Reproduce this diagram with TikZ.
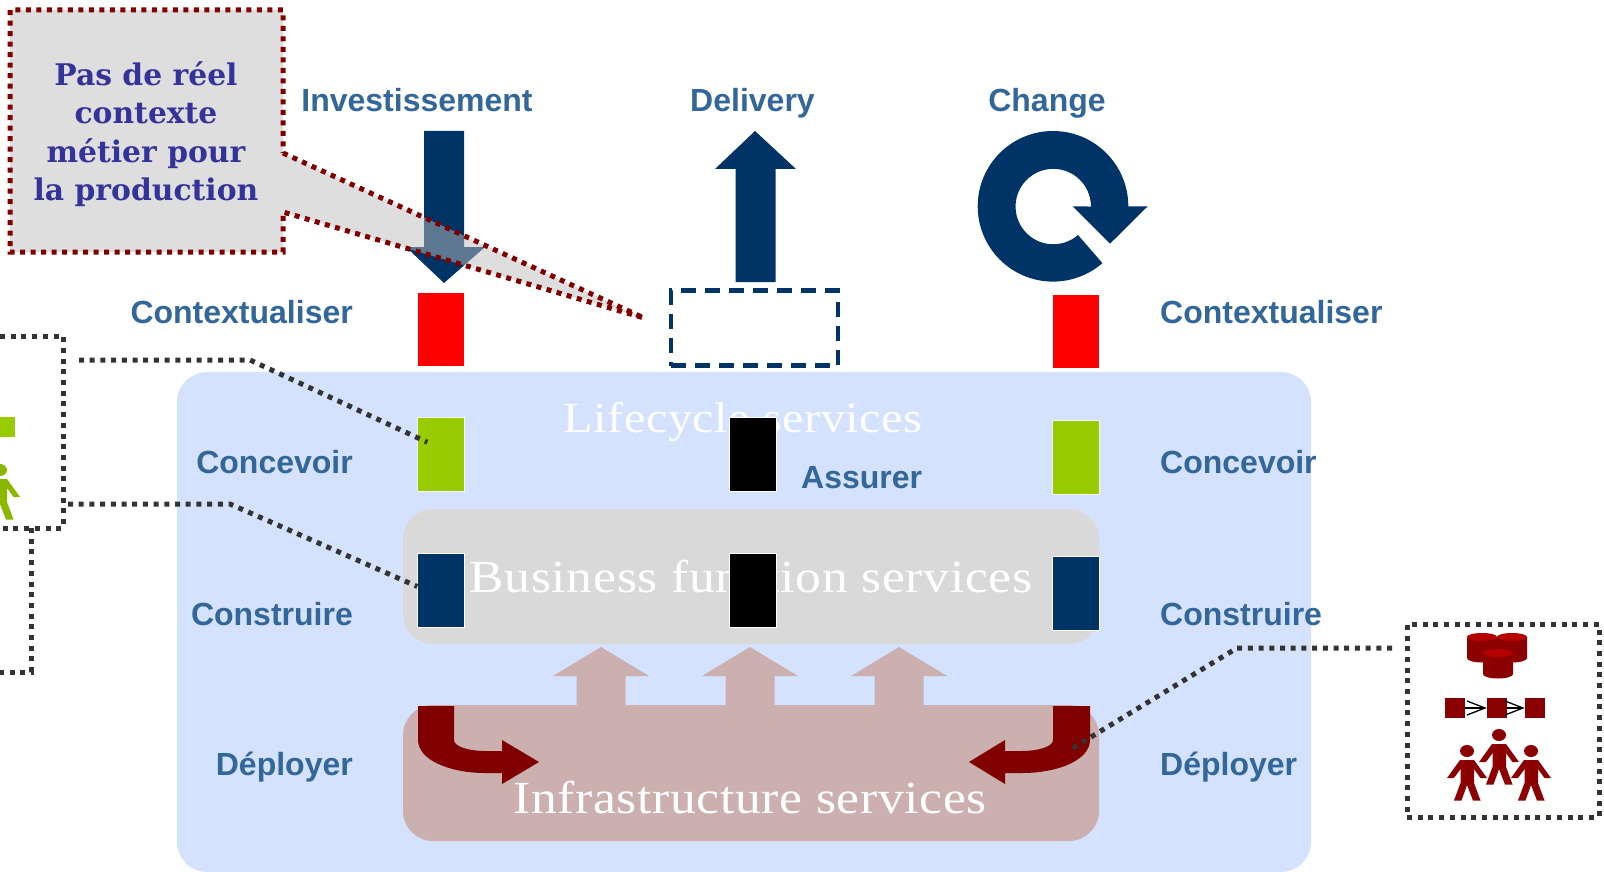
\documentclass[tikz,border=0pt]{standalone}
\usepackage{fontspec}
\setmainfont{Liberation Sans}
\newfontfamily\calloutfont{DejaVu Serif}
\newfontfamily\servicefont[FakeStretch=1.12,LetterSpace=1.5]{Liberation Serif}
\usepackage{xcolor}
\usetikzlibrary{arrows.meta,shapes.geometric}
\definecolor{navy}{HTML}{003366}
\definecolor{headblue}{HTML}{336699}
\definecolor{maroon}{HTML}{800000}
\definecolor{darkred}{HTML}{8B0000}
\definecolor{leafgreen}{HTML}{99CC00}
\definecolor{lifeblue}{HTML}{D4E2FD}
\definecolor{bizgrey}{HTML}{D9D9D9}
\definecolor{infrabrown}{HTML}{CCB0B0}
\definecolor{calloutblue}{HTML}{333399}
\newcommand{\stickman}[3]{
\fill[#3] (#1,#2) ellipse (7 and 6);
\fill[#3] (#1,#2) ++(-7,9) -- ++(-13,18) -- ++(7,0) -- ++(6.5,-9) -- ++(0,14) -- ++(-6.5,17.5) -- ++(7.5,0)
 -- ++(5.5,-15.5) -- ++(6,15.5) -- ++(7.5,0) -- ++(-6.5,-17.5) -- ++(0,-14) -- ++(6.5,9) -- ++(6.5,0) -- ++(-13,-18) -- cycle;
}
\begin{document}
\begin{tikzpicture}[x=1pt,y=-1pt]
\tikzstyle{head} = [font=\fontsize{32}{36}\selectfont\bfseries, text=headblue, inner sep=0pt, anchor=base]
\tikzstyle{headleft} = [head, anchor=base east]
\tikzstyle{headright} = [head, anchor=base west]
\tikzstyle{service} = [text=white, inner sep=0pt]
\tikzstyle{phase} = [rectangle, draw=white, line width=0.5pt, minimum width=47pt, minimum height=74pt, inner sep=0pt]
\tikzstyle{area} = [rectangle, rounded corners=30pt, inner sep=0pt]
\tikzstyle{leader} = [draw=black!80, line width=5pt, dash pattern=on 5pt off 5.7pt]
\tikzstyle{tinybox} = [rectangle, fill=darkred, minimum size=20pt, inner sep=0pt]
\tikzstyle{barb} = [draw=black, line width=1.3pt, -{Straight Barb[length=18pt,width=14pt]}]
\clip[use as bounding box] (0,0) rectangle (1604,872);
% service areas
\node [area, fill=lifeblue, minimum width=1134pt, minimum height=500pt] (lifecycle) at (744,622) {};
\node [area, fill=bizgrey, minimum width=696pt, minimum height=135pt] (business) at (751,576.5) {};
\node [area, fill=infrabrown, minimum width=696pt, minimum height=136pt] (infra) at (751,773) {};
\node [service, font=\servicefont\fontsize{43}{47}\selectfont] (lifecycleText) at (743,422) {Lifecycle services};
\node [service, font=\servicefont\fontsize{46}{50}\selectfont] (businessText) at (751,577) {Business function services};
\node [service, font=\servicefont\fontsize{46}{50}\selectfont] (infraText) at (750,798) {Infrastructure services};
% up arrows
\foreach \x in {601,750,899}
 \fill[infrabrown] (\x,647) -- (\x+48,676) -- (\x+24.5,676) -- (\x+24.5,706) -- (\x-24.5,706) -- (\x-24.5,676) -- (\x-48,676) -- cycle;
% bent arrows
\fill[maroon] (418,706) -- (454,706) -- (454,740) .. controls (454,747) and (470,751) .. (485,751) -- (502,751) -- (502,740)
 -- (539,762) -- (502,784) -- (502,773) -- (485,773) .. controls (450,773) and (418,760) .. (418,740) -- cycle;
\fill[maroon] (1090,706) -- (1053,706) -- (1053,740) .. controls (1053,747) and (1037,751) .. (1022,751) -- (1005,751) -- (1005,740)
 -- (969,762) -- (1005,784) -- (1005,773) -- (1022,773) .. controls (1058,773) and (1090,760) .. (1090,740) -- cycle;
% phase boxes, left
\node [phase, fill=red] (contextL) at (441,329.5) {};
\node [phase, fill=leafgreen] (designL) at (441,454.5) {};
\node [phase, fill=navy] (buildL) at (441,590.5) {};
% phase boxes, middle
\node [phase, fill=black] (runTop) at (753,454.5) {};
\node [phase, fill=black] (runBottom) at (753,590.5) {};
\node [rectangle, draw=navy, line width=4.5pt, dash pattern=on 15pt off 9pt, minimum width=167pt, minimum height=75pt] (deliveryBox) at (754.5,328) {};
% phase boxes, right
\node [phase, fill=red] (contextR) at (1075.5,331.5) {};
\node [phase, fill=leafgreen] (designR) at (1075.5,457) {};
\node [phase, fill=navy] (buildR) at (1075.5,593) {};
% labels
\node [head] (invest) at (417,111.5) {Investissement};
\node [head] (delivery) at (752.5,111.5) {Delivery};
\node [head] (change) at (1047,111.5) {Change};
\node [headleft] (contextLabelL) at (353,323.5) {Contextualiser};
\node [headleft] (designLabelL) at (353,473.5) {Concevoir};
\node [headleft] (buildLabelL) at (353,625.5) {Construire};
\node [headleft] (deployLabelL) at (353,775.5) {Déployer};
\node [headright] (contextLabelR) at (1160,323.5) {Contextualiser};
\node [headright] (designLabelR) at (1160,473.5) {Concevoir};
\node [headright] (buildLabelR) at (1160,625.5) {Construire};
\node [headright] (deployLabelR) at (1160,775.5) {Déployer};
\node [headright] (assure) at (801,488.5) {Assurer};
% big arrows
\fill[navy] (424,131) -- (464,131) -- (464,247) -- (485,247) -- (444,283) -- (406,247) -- (424,247) -- cycle;
\fill[navy] (755,131) -- (796,169) -- (775.5,169) -- (775.5,282) -- (735.5,282) -- (735.5,169) -- (715,169) -- cycle;
\fill[navy] (1128.3,206.3) arc[start angle=0,end angle=-311,radius=75.3] -- (1078,235)
 arc[start angle=-311,end angle=0,radius=37.7] -- (1072.7,206.3) -- (1110,243.7) -- (1147.7,206.3) -- cycle;
% callout
\draw[fill=black!26, fill opacity=0.5, draw=maroon, line width=5pt, dash pattern=on 5pt off 5.5pt]
 (283,153) -- (644,318) -- (283,212) -- (283,252) -- (10,252) -- (10,10) -- (283,10) -- cycle;
\node [font=\calloutfont\fontsize{29.8}{38.5}\selectfont\bfseries, text=calloutblue, align=center, inner sep=0pt] (calloutText) at (146,134)
 {Pas de réel\\contexte\\métier pour\\la production};
% left box, cut by the page
\draw[leader] (0,336) -- (63,336) -- (63,528) -- (0,528);
\draw[leader] (31,528) -- (31,672) -- (0,672);
\fill[leafgreen] (0,417) rectangle (15,437);
\stickman{0}{470}{leafgreen!90!black}
\coordinate (leaderA) at (79,360);
\coordinate (leaderB) at (68,504);
\draw[leader] (leaderA) -- (250,360) -- ([xshift=10pt,yshift=-25pt]designL.north west);
\draw[leader] (leaderB) -- (230,504) -- ([yshift=4pt]buildL.west);
% right box
\node [rectangle, leader, minimum width=192pt, minimum height=193pt, inner sep=0pt] (stackBox) at (1503,720.5) {};
\coordinate (leaderC) at (1392,648);
\draw[leader] (leaderC) -- (1237,648) -- ([xshift=-28pt,yshift=24pt]infra.east);
% cylinders
\foreach \x/\y in {1482/637,1512/637,1498/653}{
 \fill[darkred] (\x-15,\y) -- (\x-15,\y+21) arc[start angle=180,end angle=0,x radius=15,y radius=4.5] -- (\x+15,\y) -- cycle;
 \fill[red!35!darkred] (\x,\y) ellipse (15 and 4);
}
\node [tinybox] (stepA) at (1455,708) {};
\node [tinybox] (stepB) at (1497,708) {};
\node [tinybox] (stepC) at (1535,708) {};
\draw[barb] (stepA) -- (stepB.west);
\draw[barb] (stepB) -- (stepC.west);
\stickman{1467}{751}{darkred}
\stickman{1499}{735}{darkred}
\stickman{1531}{751}{darkred}
\end{tikzpicture}
\end{document}
